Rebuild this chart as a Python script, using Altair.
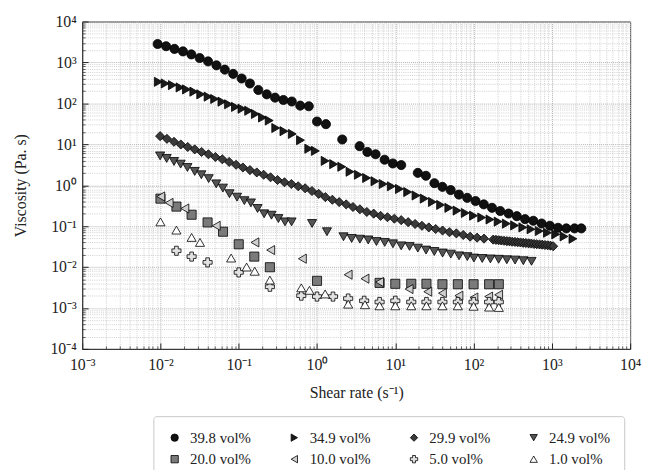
import altair as alt
import pandas as pd

series = ["39.8 vol%", "34.9 vol%", "29.9 vol%", "24.9 vol%",
          "20.0 vol%", "10.0 vol%", "5.0 vol%", "1.0 vol%"]
shapes = ["circle", "triangle-right", "diamond", "triangle-down",
          "square", "triangle-left", "cross", "triangle-up"]
fills = ["#111111", "#1a1a1a", "#3a3a3a", "#555555",
         "#7a7a7a", "#cfcfcf", "#e2e2e2", "#ffffff"]
edges = ["#000000"] * 8

x398 = [0.0092, 0.0118, 0.0151, 0.0194, 0.0248, 0.0317, 0.0406, 0.0519, 0.0664, 0.0849,
        0.109, 0.139, 0.178, 0.228, 0.291, 0.372, 0.476, 0.610, 0.785, 1.0, 1.3, 2.1, 3.5,
        4.4, 5.6, 7.3, 9.3, 11.9, 19.4, 24.6, 31.6, 40, 51, 65, 83, 106, 135, 172, 219, 280,
        357, 455, 580, 740, 944, 1200, 1530, 1950, 2380]
y398 = [2820, 2490, 2140, 1860, 1570, 1280, 1060, 850, 667, 525, 405, 306, 212, 166, 138,
        121, 111, 88, 85, 36, 31, 13.1, 9.0, 6.5, 5.7, 4.2, 3.4, 3.1, 2.0, 1.7, 1.12, 0.91,
        0.76, 0.59, 0.49, 0.41, 0.34, 0.28, 0.234, 0.203, 0.175, 0.148, 0.135, 0.116, 0.102,
        0.091, 0.088, 0.088, 0.088]

x349 = [0.0094, 0.0115, 0.0142, 0.0178, 0.0215, 0.0267, 0.0327, 0.0406, 0.0492, 0.061,
        0.0741, 0.0908, 0.110, 0.134, 0.163, 0.201, 0.245, 0.297, 0.378, 0.483, 0.615, 0.785,
        0.953, 1.27, 1.63, 2.07, 2.64, 3.37, 4.3, 5.5, 7.0, 8.9, 11.3, 14.4, 18.4, 23.4, 29.8,
        37.9, 48.3, 61.5, 78.3, 99.8, 127, 162, 206, 262, 334, 426, 542, 690, 879, 1120, 1430,
        1860]
y349 = [336, 306, 279, 245, 219, 193, 166, 146, 128, 110, 95, 82, 74, 66, 55, 45, 38, 25,
        20.9, 17.9, 12.6, 7.8, 6.9, 3.93, 3.27, 2.82, 2.13, 1.80, 1.50, 1.25, 1.07, 0.94, 0.81,
        0.68, 0.56, 0.47, 0.39, 0.33, 0.28, 0.24, 0.21, 0.18, 0.162, 0.145, 0.129, 0.115, 0.104,
        0.093, 0.084, 0.076, 0.069, 0.063, 0.056, 0.049]

x299 = [0.0099, 0.0121, 0.0149, 0.0182, 0.0223, 0.0274, 0.0335, 0.0410, 0.0503, 0.0617,
        0.0755, 0.0925, 0.113, 0.139, 0.170, 0.208, 0.255, 0.313, 0.384, 0.470, 0.575, 0.705,
        0.863, 1.05, 1.28, 1.57, 1.92, 2.36, 2.88, 3.53, 4.33, 5.30, 6.49, 7.94, 9.73, 11.9,
        14.6, 17.9, 21.9, 26.8, 32.8, 40.2, 49.2, 60.3, 73.8, 90.4, 111, 136,
        178, 193, 209, 226, 245, 266, 288, 312, 338, 366, 397, 430, 466, 505, 547, 593, 642,
        696, 754, 817, 885, 959, 1040]
y299 = [15.8, 13.6, 11.5, 9.9, 8.6, 7.5, 6.5, 5.7, 4.9, 4.3, 3.7, 3.15, 2.71, 2.34, 2.05,
        1.80, 1.56, 1.34, 1.18, 1.07, 0.94, 0.84, 0.72, 0.615, 0.511, 0.441, 0.387, 0.340,
        0.293, 0.258, 0.222, 0.202, 0.178, 0.165, 0.152, 0.140, 0.125, 0.113, 0.102, 0.093,
        0.085, 0.078, 0.071, 0.0665, 0.0607, 0.0552, 0.0522, 0.0495,
        0.0468, 0.0461, 0.0452, 0.0446, 0.0438, 0.0430, 0.0425, 0.0416, 0.0411, 0.0403,
        0.0399, 0.0391, 0.0386, 0.0379, 0.0375, 0.0367, 0.0362, 0.0356, 0.0352, 0.0345,
        0.0340, 0.0334, 0.0322]

x249 = [0.0099, 0.0120, 0.0149, 0.0181, 0.0221, 0.0274, 0.0333, 0.0413, 0.0516, 0.0627,
        0.0762, 0.0951, 0.118, 0.143, 0.174, 0.211, 0.262, 0.321, 0.390, 0.473, 0.865, 1.34,
        2.18, 2.77, 3.53, 4.51, 5.74, 7.33, 9.33, 11.9, 15.2, 19.4, 24.7, 31.5, 40.2, 51.2,
        65.2, 83.2, 101, 129, 164, 209, 266, 339, 432, 550]
y249 = [5.2, 4.5, 3.8, 3.27, 2.71, 2.17, 1.80, 1.45, 1.08, 0.85, 0.62, 0.51, 0.42, 0.37,
        0.27, 0.20, 0.185, 0.153, 0.127, 0.127, 0.116, 0.073, 0.055, 0.050, 0.048, 0.046,
        0.042, 0.040, 0.037, 0.033, 0.032, 0.029, 0.026, 0.024, 0.022, 0.0207, 0.0188, 0.018,
        0.0166, 0.0162, 0.0158, 0.0155, 0.0151, 0.0148, 0.0143, 0.0138]

x200 = [0.01, 0.016, 0.025, 0.04, 0.063, 0.1, 0.158, 0.25, 1.0, 6.3, 10, 16, 25, 40, 63,
        100, 158, 210]
y200 = [0.47, 0.30, 0.19, 0.123, 0.073, 0.036, 0.018, 0.0099, 0.0046, 0.0041, 0.0039,
        0.0039, 0.0039, 0.0038, 0.0038, 0.0038, 0.0038, 0.0038]

x100 = [0.0101, 0.0129, 0.0205, 0.0516, 0.161, 0.256, 0.65, 2.5, 4.1, 6.3, 15, 26, 40, 65,
        101, 156, 209]
y100 = [0.53, 0.37, 0.27, 0.102, 0.040, 0.026, 0.016, 0.0065, 0.0052, 0.0043, 0.0029,
        0.0025, 0.0023, 0.0020, 0.0018, 0.0019, 0.0021]

x050 = [0.016, 0.025, 0.04, 0.1, 0.25, 0.63, 1.0, 1.6, 2.5, 4.0, 6.3, 10, 16, 25, 40, 63,
        100, 158, 210]
y050 = [0.025, 0.018, 0.013, 0.0074, 0.0033, 0.0020, 0.0019, 0.0019, 0.0017, 0.0015,
        0.0014, 0.0015, 0.0014, 0.0014, 0.0014, 0.0014, 0.0014, 0.0014, 0.0014]

x010 = [0.01, 0.016, 0.025, 0.032, 0.08, 0.126, 0.16, 0.25, 0.63, 0.8, 1.27, 2.5, 4.1, 6.3,
        10, 16, 25, 40, 63, 100, 158, 210]
y010 = [0.127, 0.080, 0.053, 0.040, 0.0166, 0.010, 0.0079, 0.0048, 0.0031, 0.0027, 0.0022,
        0.00124, 0.00120, 0.00113, 0.00113, 0.00113, 0.00113, 0.00113, 0.00113, 0.00110,
        0.00105, 0.00103]

xs = [x398, x349, x299, x249, x200, x100, x050, x010]
ys = [y398, y349, y299, y249, y200, y100, y050, y010]

rows = []
for name, xa, ya in zip(series, xs, ys):
    for a, b in zip(xa, ya):
        rows.append({"rate": a, "visc": b, "series": name})
df = pd.DataFrame(rows)

x_dec = [10.0 ** k for k in range(-3, 5)]
y_dec = [10.0 ** k for k in range(-4, 5)]
x_min = [m * 10.0 ** k for k in range(-3, 4) for m in range(2, 10)]
y_min = [m * 10.0 ** k for k in range(-4, 4) for m in range(2, 10)]

W, H = 554, 331
FONT = "Liberation Serif"
sup = ("'10' + (datum.value < 1 ? '\u207b' : '') + "
       "['\u2070','\u00b9','\u00b2','\u00b3','\u2074'][abs(round(log(datum.value)/LN10))]")

xscale = alt.Scale(type="log", domain=[1e-3, 1e4], nice=False)
yscale = alt.Scale(type="log", domain=[1e-4, 1e4], nice=False)

base = alt.Chart(df)

# minor grid + minor inward ticks
minor = base.mark_point(opacity=0).encode(
    x=alt.X("rate:Q", scale=xscale, axis=alt.Axis(
        orient="top", offset=-H, values=x_min, labels=False, domain=False, title=None,
        ticks=True, tickSize=3, tickColor="#222", tickWidth=0.7,
        grid=True, gridColor="#c4c4c4", gridDash=[1, 1.2], gridWidth=0.8)),
    y=alt.Y("visc:Q", scale=yscale, axis=alt.Axis(
        orient="right", offset=-W, values=y_min, labels=False, domain=False, title=None,
        ticks=True, tickSize=3, tickColor="#222", tickWidth=0.7,
        grid=True, gridColor="#c4c4c4", gridDash=[1, 1.2], gridWidth=0.8)),
)

# major inward ticks
major = base.mark_point(opacity=0).encode(
    x=alt.X("rate:Q", scale=xscale, axis=alt.Axis(
        orient="top", offset=-H, values=x_dec, labels=False, domain=False, title=None,
        ticks=True, tickSize=6, tickColor="#222", tickWidth=1, grid=False)),
    y=alt.Y("visc:Q", scale=yscale, axis=alt.Axis(
        orient="right", offset=-W, values=y_dec, labels=False, domain=False, title=None,
        ticks=True, tickSize=6, tickColor="#222", tickWidth=1, grid=False)),
)

leg = alt.Legend(title=None, orient="none", legendX=72, legendY=399, columns=4,
                 direction="horizontal",
                 columnPadding=36, rowPadding=6, padding=14,
                 strokeColor="#c8c8c8", fillColor="white", cornerRadius=3,
                 labelFont=FONT, labelFontSize=15, labelColor="#222", labelLimit=250,
                 labelOffset=8, symbolSize=55, symbolStrokeColor="black",
                 symbolStrokeWidth=0.8, symbolOpacity=1)

points = base.mark_point(filled=True, size=85, strokeWidth=0.8, opacity=1).encode(
    x=alt.X("rate:Q", scale=xscale, axis=alt.Axis(
        orient="bottom", values=x_dec, labelExpr=sup, title="Shear rate (s\u207b\u00b9)",
        ticks=False, tickSize=0, labelPadding=8, grid=True, gridColor="#b0b0b0",
        gridDash=[1, 1], gridWidth=1, domain=True, domainColor="#333",
        labelFont=FONT, labelFontSize=16, labelColor="#222",
        titleFont=FONT, titleFontSize=16, titleFontWeight="normal", titleColor="#222",
        titlePadding=12, labelFlush=False)),
    y=alt.Y("visc:Q", scale=yscale, axis=alt.Axis(
        orient="left", values=y_dec, labelExpr=sup, title="Viscosity (Pa. s)",
        ticks=False, tickSize=0, labelPadding=6, grid=True, gridColor="#b0b0b0",
        gridDash=[1, 1], gridWidth=1, domain=True, domainColor="#333",
        labelFont=FONT, labelFontSize=16, labelColor="#222",
        titleFont=FONT, titleFontSize=16, titleFontWeight="normal", titleColor="#222",
        titlePadding=22, labelFlush=False)),
    color=alt.Color("series:N", scale=alt.Scale(domain=series, range=fills), legend=leg),
    shape=alt.Shape("series:N", scale=alt.Scale(domain=series, range=shapes), legend=leg),
    stroke=alt.Stroke("series:N", scale=alt.Scale(domain=series, range=edges), legend=leg),
)

chart = alt.layer(minor, major, points).resolve_axis(
    x="independent", y="independent"
).properties(
    width=W, height=H,
    autosize=alt.AutoSizeParams(type="none"),
    padding={"left": 75, "top": 11, "right": 12, "bottom": 140},
).configure_view(stroke="#333", strokeWidth=1)

chart.save("out.html", embed_options={"renderer": "svg", "actions": False})
